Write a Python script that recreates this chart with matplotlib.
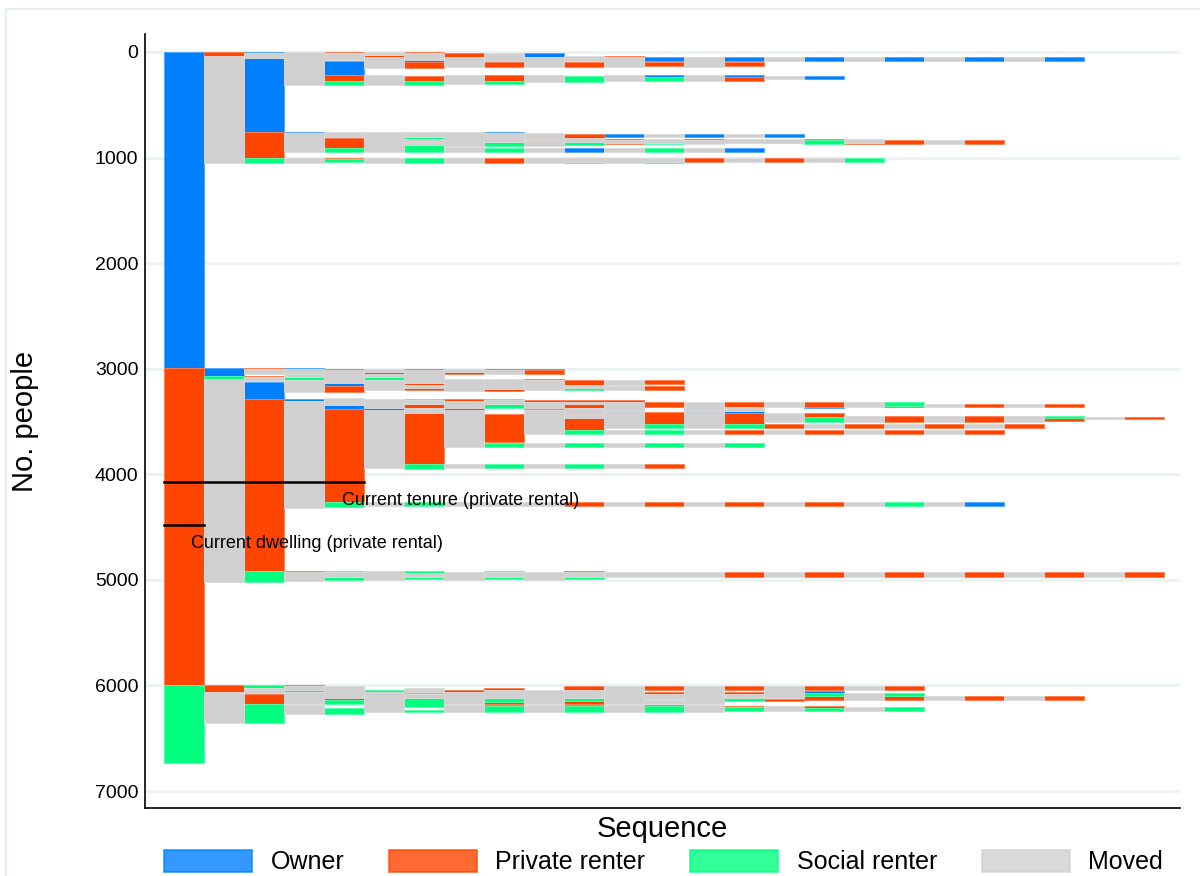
import matplotlib
matplotlib.use("Agg")
import matplotlib.pyplot as plt
from matplotlib.patches import Patch, Rectangle

plt.rcParams['font.family'] = ['Liberation Sans', 'DejaVu Sans']

# state codes -> legend labels and colours
states = ['O', 'P', 'S', 'M']
state_labels = ['Owner', 'Private renter', 'Social renter', 'Moved']
state_colors = {'O': '#0080ff', 'P': '#ff4500', 'S': '#00ff7f', 'M': '#d0d0d0'}
state_edges = {'O': '#4da6ff', 'P': '#ff7d4d', 'S': '#4dffa6', 'M': '#dadada'}

# segments: (sequence step, state, from person, to person)
root = [(0, 'O', 0, 2993), (0, 'P', 2993, 5996), (0, 'S', 5996, 6730)]

owners = [
    (1, 'P', 0, 35), (1, 'M', 35, 1053),
    (2, 'O', 0, 10), (2, 'M', 10, 56), (2, 'O', 58, 760), (2, 'P', 760, 1000), (2, 'S', 1000, 1053),
    (3, 'M', 0, 312), (3, 'O', 755, 767), (3, 'M', 767, 950), (3, 'M', 1000, 1053),
    (4, 'P', 0, 12), (4, 'M', 12, 80), (4, 'O', 82, 218), (4, 'P', 218, 275), (4, 'S', 275, 312),
    (4, 'M', 760, 802), (4, 'O', 802, 812), (4, 'P', 812, 912), (4, 'S', 912, 950),
    (4, 'P', 1000, 1010), (4, 'S', 1010, 1045),
    (5, 'M', 0, 28), (5, 'P', 28, 45), (5, 'M', 45, 155), (5, 'M', 218, 312), (5, 'M', 760, 950),
    (5, 'M', 1000, 1053),
    (6, 'P', 0, 10), (6, 'M', 10, 80), (6, 'O', 80, 92), (6, 'P', 92, 148), (6, 'P', 225, 275),
    (6, 'S', 275, 312), (6, 'M', 760, 802), (6, 'S', 802, 825), (6, 'M', 825, 850), (6, 'P', 850, 865),
    (6, 'M', 865, 881), (6, 'S', 881, 944), (6, 'S', 1000, 1050),
    (7, 'P', 13, 45), (7, 'M', 45, 140), (7, 'M', 218, 306), (7, 'M', 760, 890), (7, 'M', 897, 950),
    (7, 'M', 1000, 1048),
    (8, 'M', 13, 82), (8, 'O', 82, 92), (8, 'P', 92, 145), (8, 'P', 218, 272), (8, 'S', 272, 306),
    (8, 'O', 760, 770), (8, 'M', 770, 813), (8, 'P', 813, 825), (8, 'M', 825, 855), (8, 'S', 855, 890),
    (8, 'S', 912, 950), (8, 'P', 1000, 1048),
    (9, 'O', 13, 45), (9, 'M', 45, 140), (9, 'M', 218, 280), (9, 'M', 770, 825), (9, 'P', 825, 832),
    (9, 'M', 832, 890), (9, 'M', 912, 950), (9, 'M', 1000, 1048),
    (10, 'M', 40, 90), (10, 'P', 95, 145), (10, 'S', 225, 281), (10, 'P', 776, 812), (10, 'M', 812, 850),
    (10, 'S', 850, 881), (10, 'O', 912, 950), (10, 'P', 1000, 1008), (10, 'M', 1008, 1040),
    (10, 'S', 1040, 1048),
    (11, 'P', 38, 48), (11, 'M', 48, 140), (11, 'M', 218, 272), (11, 'O', 776, 805), (11, 'P', 825, 832),
    (11, 'M', 832, 865), (11, 'P', 865, 870), (11, 'M', 912, 950), (11, 'M', 1000, 1048),
    (12, 'O', 48, 85), (12, 'P', 98, 135), (12, 'O', 218, 235), (12, 'S', 240, 272), (12, 'M', 776, 805),
    (12, 'M', 820, 860), (12, 'S', 865, 870), (12, 'S', 912, 950), (12, 'M', 1000, 1040),
    (12, 'S', 1040, 1048),
    (13, 'M', 48, 140), (13, 'M', 218, 272), (13, 'O', 776, 805), (13, 'P', 825, 832), (13, 'M', 832, 870),
    (13, 'M', 912, 950), (13, 'P', 1000, 1045),
    (14, 'O', 48, 85), (14, 'P', 98, 135), (14, 'O', 218, 234), (14, 'P', 234, 272), (14, 'M', 776, 805),
    (14, 'O', 820, 825), (14, 'M', 825, 865), (14, 'O', 912, 950), (14, 'M', 1000, 1045),
    (15, 'M', 45, 82), (15, 'M', 224, 258), (15, 'O', 776, 805), (15, 'M', 820, 860), (15, 'P', 860, 865),
    (15, 'P', 1000, 1045),
    (16, 'O', 45, 82), (16, 'O', 224, 258), (16, 'P', 824, 830), (16, 'S', 830, 870), (16, 'M', 1000, 1045),
    (17, 'M', 45, 82), (17, 'M', 824, 865), (17, 'P', 865, 871), (17, 'S', 1000, 1045),
    (18, 'O', 45, 82), (18, 'P', 830, 870),
    (19, 'M', 45, 82), (19, 'M', 830, 870),
    (20, 'O', 45, 82), (20, 'P', 830, 870),
    (21, 'M', 45, 82),
    (22, 'O', 45, 82),
]

private = [
    (1, 'O', 2996, 3068), (1, 'S', 3068, 3100), (1, 'M', 3100, 5025),
    (2, 'P', 2990, 3002), (2, 'M', 3002, 3053), (2, 'P', 3065, 3075), (2, 'M', 3075, 3115),
    (2, 'O', 3122, 3289), (2, 'P', 3289, 4915), (2, 'S', 4915, 5025),
    (3, 'O', 2990, 3000), (3, 'M', 3000, 3037), (3, 'S', 3037, 3050), (3, 'M', 3050, 3075),
    (3, 'S', 3075, 3106), (3, 'M', 3106, 3217), (3, 'O', 3289, 3302), (3, 'S', 3302, 3310),
    (3, 'M', 3310, 4316), (3, 'P', 4915, 4925), (3, 'M', 4925, 5010),
    (4, 'P', 3002, 3012), (4, 'M', 3012, 3138), (4, 'O', 3138, 3160), (4, 'P', 3160, 3217),
    (4, 'M', 3280, 3343), (4, 'O', 3343, 3381), (4, 'P', 3381, 4259), (4, 'S', 4259, 4313),
    (4, 'S', 4915, 4925), (4, 'M', 4925, 4969), (4, 'S', 4969, 5000),
    (5, 'M', 3002, 3034), (5, 'P', 3034, 3053), (5, 'M', 3053, 3075), (5, 'S', 3075, 3106),
    (5, 'M', 3106, 3200), (5, 'M', 3290, 3375), (5, 'O', 3375, 3390), (5, 'M', 3390, 3945),
    (5, 'M', 4262, 4300), (5, 'M', 4920, 5000),
    (6, 'P', 3002, 3012), (6, 'M', 3012, 3138), (6, 'P', 3138, 3150), (6, 'M', 3150, 3185),
    (6, 'P', 3185, 3200), (6, 'S', 3290, 3300), (6, 'M', 3300, 3337), (6, 'P', 3337, 3368),
    (6, 'M', 3368, 3422), (6, 'P', 3422, 3905), (6, 'S', 3905, 3950), (6, 'S', 4262, 4300),
    (6, 'S', 4915, 4938), (6, 'M', 4938, 4969), (6, 'S', 4969, 4993),
    (7, 'M', 3005, 3028), (7, 'P', 3028, 3050), (7, 'M', 3097, 3208), (7, 'P', 3290, 3302),
    (7, 'M', 3302, 3375), (7, 'P', 3375, 3390), (7, 'M', 3390, 3738), (7, 'M', 3905, 3943),
    (7, 'M', 4262, 4300), (7, 'M', 4921, 5000),
    (8, 'P', 3005, 3015), (8, 'M', 3015, 3050), (8, 'M', 3097, 3195), (8, 'P', 3195, 3210),
    (8, 'S', 3290, 3300), (8, 'M', 3300, 3337), (8, 'S', 3337, 3375), (8, 'P', 3432, 3697),
    (8, 'S', 3700, 3740), (8, 'S', 3905, 3943), (8, 'M', 4262, 4300), (8, 'S', 4915, 4925),
    (8, 'M', 4925, 4969), (8, 'S', 4969, 4993),
    (9, 'O', 3005, 3015), (9, 'P', 3015, 3050), (9, 'P', 3097, 3110), (9, 'M', 3110, 3200),
    (9, 'P', 3300, 3315), (9, 'M', 3315, 3375), (9, 'P', 3375, 3385), (9, 'M', 3390, 3618),
    (9, 'M', 3700, 3740), (9, 'M', 3905, 3943), (9, 'M', 4262, 4300), (9, 'M', 4921, 5000),
    (10, 'P', 3106, 3154), (10, 'M', 3154, 3185), (10, 'S', 3185, 3200), (10, 'P', 3300, 3315),
    (10, 'M', 3315, 3334), (10, 'P', 3334, 3368), (10, 'M', 3368, 3430), (10, 'P', 3430, 3440),
    (10, 'M', 3440, 3470), (10, 'P', 3470, 3580), (10, 'S', 3580, 3618), (10, 'S', 3700, 3740),
    (10, 'S', 3905, 3943), (10, 'P', 4262, 4300), (10, 'P', 4915, 4925), (10, 'M', 4925, 4969),
    (10, 'S', 4969, 4993),
    (11, 'M', 3106, 3154), (11, 'M', 3160, 3200), (11, 'P', 3300, 3315), (11, 'M', 3315, 3390),
    (11, 'O', 3390, 3400), (11, 'M', 3400, 3558), (11, 'M', 3580, 3618), (11, 'M', 3700, 3740),
    (11, 'M', 3905, 3943), (11, 'M', 4262, 4300), (11, 'M', 4930, 4975),
    (12, 'P', 3106, 3144), (12, 'P', 3163, 3200), (12, 'P', 3312, 3365), (12, 'P', 3413, 3523),
    (12, 'S', 3523, 3558), (12, 'S', 3580, 3618), (12, 'S', 3700, 3740), (12, 'P', 3905, 3943),
    (12, 'P', 4262, 4300), (12, 'M', 4930, 4975),
    (13, 'M', 3312, 3390), (13, 'O', 3390, 3405), (13, 'M', 3405, 3558), (13, 'M', 3580, 3618),
    (13, 'M', 3700, 3740), (13, 'M', 4262, 4300), (13, 'M', 4930, 4975),
    (14, 'P', 3312, 3365), (14, 'M', 3365, 3397), (14, 'O', 3397, 3422), (14, 'P', 3422, 3523),
    (14, 'S', 3523, 3558), (14, 'P', 3580, 3618), (14, 'S', 3700, 3740), (14, 'P', 4262, 4300),
    (14, 'P', 4930, 4975),
    (15, 'M', 3318, 3365), (15, 'M', 3422, 3501), (15, 'P', 3523, 3558), (15, 'M', 3580, 3618),
    (15, 'M', 4262, 4300), (15, 'M', 4930, 4975),
    (16, 'P', 3318, 3360), (16, 'O', 3360, 3368), (16, 'P', 3422, 3460), (16, 'S', 3460, 3501),
    (16, 'M', 3523, 3558), (16, 'P', 3580, 3618), (16, 'P', 4262, 4300), (16, 'P', 4930, 4975),
    (17, 'M', 3318, 3365), (17, 'M', 3448, 3501), (17, 'P', 3523, 3558), (17, 'M', 3580, 3618),
    (17, 'M', 4262, 4300), (17, 'M', 4930, 4975),
    (18, 'S', 3318, 3350), (18, 'P', 3350, 3365), (18, 'P', 3448, 3501), (18, 'M', 3523, 3558),
    (18, 'P', 3580, 3618), (18, 'S', 4262, 4300), (18, 'P', 4930, 4975),
    (19, 'M', 3330, 3365), (19, 'M', 3448, 3501), (19, 'P', 3523, 3558), (19, 'M', 3580, 3618),
    (19, 'M', 4262, 4300), (19, 'M', 4930, 4975),
    (20, 'P', 3330, 3365), (20, 'P', 3448, 3501), (20, 'M', 3523, 3558), (20, 'P', 3580, 3618),
    (20, 'O', 4262, 4300), (20, 'P', 4930, 4975),
    (21, 'M', 3330, 3365), (21, 'M', 3448, 3501), (21, 'P', 3523, 3558), (21, 'M', 4930, 4975),
    (22, 'P', 3330, 3365), (22, 'S', 3445, 3470), (22, 'P', 3470, 3495), (22, 'P', 4930, 4975),
    (23, 'M', 3455, 3480), (23, 'M', 4930, 4975),
    (24, 'P', 3455, 3480), (24, 'P', 4930, 4975),
]

social = [
    (1, 'P', 5996, 6059), (1, 'M', 6059, 6358),
    (2, 'S', 5996, 6028), (2, 'M', 6028, 6075), (2, 'O', 6075, 6085), (2, 'P', 6085, 6180),
    (2, 'S', 6180, 6358),
    (3, 'P', 6000, 6010), (3, 'M', 6010, 6043), (3, 'S', 6043, 6059), (3, 'M', 6059, 6180),
    (3, 'M', 6185, 6270),
    (4, 'M', 6005, 6122), (4, 'P', 6122, 6137), (4, 'S', 6137, 6180), (4, 'S', 6217, 6270),
    (5, 'S', 6043, 6059), (5, 'M', 6059, 6255),
    (6, 'M', 6028, 6059), (6, 'P', 6059, 6068), (6, 'S', 6068, 6085), (6, 'M', 6085, 6115),
    (6, 'S', 6115, 6200), (6, 'S', 6232, 6255),
    (7, 'P', 6043, 6059), (7, 'M', 6059, 6180), (7, 'M', 6185, 6248),
    (8, 'P', 6025, 6040), (8, 'M', 6040, 6115), (8, 'S', 6115, 6153), (8, 'P', 6153, 6180),
    (8, 'P', 6185, 6195), (8, 'S', 6195, 6248),
    (9, 'M', 6043, 6180), (9, 'M', 6185, 6248),
    (10, 'P', 6005, 6043), (10, 'M', 6043, 6115), (10, 'S', 6115, 6143), (10, 'P', 6143, 6180),
    (10, 'P', 6185, 6195), (10, 'S', 6195, 6248),
    (11, 'M', 6005, 6180), (11, 'M', 6185, 6248),
    (12, 'P', 6005, 6043), (12, 'P', 6059, 6085), (12, 'M', 6085, 6130), (12, 'S', 6130, 6140),
    (12, 'M', 6140, 6180), (12, 'P', 6185, 6195), (12, 'S', 6195, 6248),
    (13, 'M', 6005, 6180), (13, 'M', 6185, 6248),
    (14, 'P', 6005, 6043), (14, 'P', 6059, 6085), (14, 'M', 6085, 6115), (14, 'S', 6115, 6143),
    (14, 'P', 6190, 6205), (14, 'S', 6205, 6240),
    (15, 'M', 6005, 6115), (15, 'P', 6130, 6143), (15, 'M', 6190, 6240),
    (16, 'P', 6005, 6043), (16, 'O', 6055, 6068), (16, 'S', 6068, 6100), (16, 'P', 6100, 6137),
    (16, 'P', 6195, 6210), (16, 'S', 6210, 6240),
    (17, 'M', 6005, 6043), (17, 'M', 6075, 6137), (17, 'M', 6208, 6240),
    (18, 'P', 6005, 6043), (18, 'S', 6068, 6100), (18, 'P', 6100, 6137), (18, 'S', 6208, 6240),
    (19, 'M', 6100, 6137), (20, 'P', 6100, 6137), (21, 'M', 6100, 6137), (22, 'P', 6100, 6137),
]

# marker lines for the current private renting spell
tenure_y = 4070
dwelling_y = 4480

fig = plt.figure(figsize=(12, 8.76), dpi=100)
ax = fig.add_axes([0.121, 0.0776, 0.862, 0.8836])

segments = root + owners + private + social
for st in states:
    seg = [s for s in segments if s[1] == st]
    ax.bar([s[0] + 1 for s in seg], [s[3] - s[2] for s in seg],
           bottom=[s[2] for s in seg], width=1.0,
           color=state_colors[st], edgecolor=state_edges[st], linewidth=0.6, zorder=2)

ax.plot([0.5, 5.5], [tenure_y, tenure_y], color='black', lw=1.8, zorder=3)
ax.plot([0.5, 1.5], [dwelling_y, dwelling_y], color='black', lw=1.8, zorder=3)
ax.text(4.96, 4250, 'Current tenure (private rental)', fontsize=13, va='center', zorder=4)
ax.text(1.19, 4651, 'Current dwelling (private rental)', fontsize=13, va='center', zorder=4)

ax.set_xlim(0.04, 25.9)
ax.set_ylim(7161, -170)
ax.set_yticks(range(0, 7001, 1000))
ax.set_xticks([])
ax.yaxis.grid(True, color='#eaf2f3', lw=2.2, zorder=0)
ax.set_axisbelow(True)
ax.tick_params(axis='y', length=0, labelsize=14, pad=5)
for side in ['top', 'right']:
    ax.spines[side].set_visible(False)
for side in ['left', 'bottom']:
    ax.spines[side].set_linewidth(1.2)

ax.set_ylabel('No. people', fontsize=21)
ax.yaxis.set_label_coords(-0.103, 0.5)
ax.set_xlabel('Sequence', fontsize=21, labelpad=5)

handles = [Patch(facecolor=state_colors[s], edgecolor=state_colors[s], alpha=0.8, lw=1.2)
           for s in states]
fig.legend(handles, state_labels, loc='lower center', bbox_to_anchor=(0.553, -0.018), ncol=4,
           frameon=False, fontsize=18, handlelength=3.5, handleheight=1.0,
           handletextpad=0.75, columnspacing=1.8, borderpad=0.2)

fig.patches.append(Rectangle((0.005, -0.05), 1.1, 1.04, transform=fig.transFigure,
                             fill=False, edgecolor='#e6eef0', lw=1.5))

fig.savefig('out.png', dpi=100)
